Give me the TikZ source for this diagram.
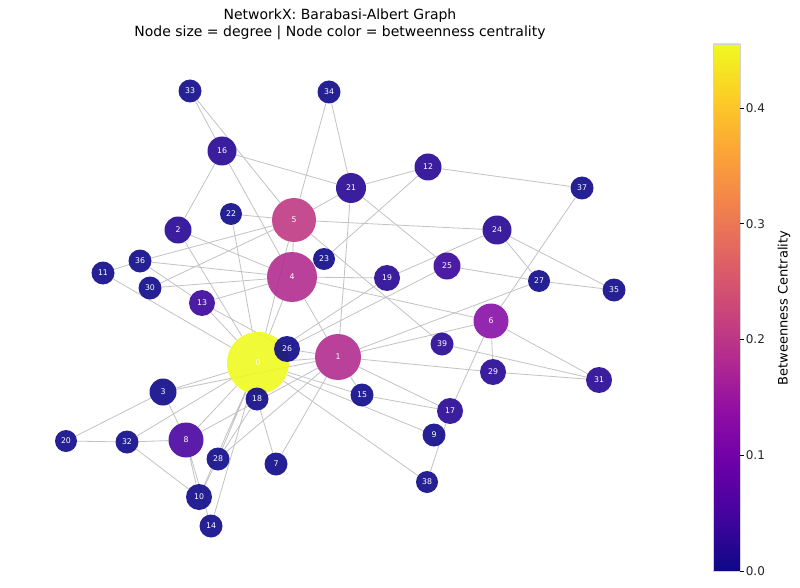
\documentclass[tikz,border=0pt]{standalone}
\usepackage{fontspec}
\setmainfont{DejaVu Sans}
\usepackage{tikz}

\definecolor{bc0}{HTML}{0D0887}
\definecolor{bc1}{HTML}{260593}
\definecolor{bc2}{HTML}{38049A}
\definecolor{bc3}{HTML}{4803A0}
\definecolor{bc4}{HTML}{870FA6}
\definecolor{bc5}{HTML}{B22C8F}
\definecolor{bc6}{HTML}{BF3983}
\definecolor{bc7}{HTML}{F0F921}
\definecolor{edgegray}{HTML}{C2C2C2}

\definecolor{pl0}{HTML}{0D0887}
\definecolor{pl1}{HTML}{41049D}
\definecolor{pl2}{HTML}{6A00A8}
\definecolor{pl3}{HTML}{8F0DA4}
\definecolor{pl4}{HTML}{B12A90}
\definecolor{pl5}{HTML}{CC4778}
\definecolor{pl6}{HTML}{E16462}
\definecolor{pl7}{HTML}{F2844B}
\definecolor{pl8}{HTML}{FCA636}
\definecolor{pl9}{HTML}{FCCE25}
\definecolor{pl10}{HTML}{F0F921}
\pgfdeclareverticalshading{plasmabar}{100bp}{color(0bp)=(pl0); color(25bp)=(pl0);
  color(30bp)=(pl1); color(35bp)=(pl2); color(40bp)=(pl3); color(45bp)=(pl4);
  color(50bp)=(pl5); color(55bp)=(pl6); color(60bp)=(pl7); color(65bp)=(pl8);
  color(70bp)=(pl9); color(75bp)=(pl10); color(100bp)=(pl10)}

\pgfdeclarelayer{edges}
\pgfsetlayers{edges,main}

\tikzset{
  vtx/.style={circle, minimum size=#1pt, inner sep=0pt, fill opacity=0.9, text opacity=1,
    text=white, font=\fontsize{7.8}{8}\selectfont},
  edge/.style={draw=edgegray, line width=0.8pt},
  ticklabel/.style={right, inner sep=1.5pt, font=\fontsize{12}{14}\selectfont, text=black!85},
}

\begin{document}
\begin{tikzpicture}[x=1pt,y=-1pt]
		%%%%% START %%%%%
		\useasboundingbox (0,0) rectangle (800,588);

		\node[align=center, font=\fontsize{14}{17}\selectfont] (title) at (340,24)
			{NetworkX: Barabasi-Albert Graph\\Node size = degree | Node color = betweenness centrality};

		% hubs
		\node[vtx=62, fill=bc7] (n0) at (258,363) {0};
		\node[vtx=46, fill=bc5] (n1) at (338,357) {1};
		\node[vtx=50, fill=bc5] (n4) at (292,277) {4};
		\node[vtx=44, fill=bc6] (n5) at (294,220) {5};
		\node[vtx=35, fill=bc4] (n6) at (491,321) {6};
		\node[vtx=35, fill=bc3] (n8) at (186,440) {8};

		% upper left
		\node[vtx=23, fill=bc0] (n33) at (190,91) {33};
		\node[vtx=23, fill=bc0] (n34) at (329,92) {34};
		\node[vtx=29, fill=bc1] (n16) at (222,151) {16};
		\node[vtx=27, fill=bc1] (n2) at (178,230) {2};
		\node[vtx=22, fill=bc0] (n22) at (231,214) {22};
		\node[vtx=23, fill=bc0] (n36) at (140,261) {36};
		\node[vtx=23, fill=bc0] (n11) at (103,273) {11};
		\node[vtx=23, fill=bc0] (n30) at (150,288) {30};
		\node[vtx=26, fill=bc2] (n13) at (202,303) {13};
		\node[vtx=22, fill=bc0] (n23) at (324,259) {23};

		% upper right
		\node[vtx=30, fill=bc1] (n21) at (351,188) {21};
		\node[vtx=27, fill=bc1] (n12) at (428,167) {12};
		\node[vtx=23, fill=bc0] (n37) at (582,188) {37};
		\node[vtx=29, fill=bc1] (n24) at (497,230) {24};
		\node[vtx=27, fill=bc2] (n25) at (447,266) {25};
		\node[vtx=26, fill=bc1] (n19) at (387,278) {19};
		\node[vtx=22, fill=bc0] (n27) at (539,281) {27};
		\node[vtx=23, fill=bc0] (n35) at (614,290) {35};

		% lower left
		\node[vtx=26, fill=bc0] (n26) at (287,349) {26};
		\node[vtx=27, fill=bc0] (n3) at (163,392) {3};
		\node[vtx=23, fill=bc0] (n18) at (257,399) {18};
		\node[vtx=22, fill=bc0] (n20) at (66,441) {20};
		\node[vtx=23, fill=bc0] (n32) at (127,442) {32};
		\node[vtx=23, fill=bc0] (n28) at (218,459) {28};
		\node[vtx=23, fill=bc0] (n7) at (276,464) {7};
		\node[vtx=26, fill=bc0] (n10) at (199,497) {10};
		\node[vtx=23, fill=bc0] (n14) at (211,526) {14};

		% lower right
		\node[vtx=23, fill=bc1] (n39) at (442,344) {39};
		\node[vtx=26, fill=bc1] (n29) at (493,372) {29};
		\node[vtx=26, fill=bc1] (n31) at (599,380) {31};
		\node[vtx=23, fill=bc0] (n15) at (362,395) {15};
		\node[vtx=26, fill=bc1] (n17) at (450,411) {17};
		\node[vtx=23, fill=bc0] (n9) at (434,435) {9};
		\node[vtx=22, fill=bc0] (n38) at (427,482) {38};

		\begin{pgfonlayer}{edges}
		\draw[edge] (n0) -- (n1) (n0) -- (n2) (n0) -- (n3) (n0) -- (n4) (n0) -- (n5)
			(n0) -- (n8) (n0) -- (n9) (n0) -- (n10) (n0) -- (n11) (n0) -- (n13)
			(n0) -- (n14) (n0) -- (n15) (n0) -- (n18) (n0) -- (n19) (n0) -- (n22)
			(n0) -- (n25) (n0) -- (n26) (n0) -- (n28) (n0) -- (n32) (n0) -- (n38);
		\draw[edge] (n1) -- (n3) (n1) -- (n4) (n1) -- (n6) (n1) -- (n7) (n1) -- (n8)
			(n1) -- (n15) (n1) -- (n17) (n1) -- (n21) (n1) -- (n26) (n1) -- (n27)
			(n1) -- (n28) (n1) -- (n29);
		\draw[edge] (n4) -- (n5) (n4) -- (n6) (n4) -- (n13) (n4) -- (n16) (n4) -- (n19)
			(n4) -- (n23) (n4) -- (n30) (n4) -- (n36) (n4) -- (n2);
		\draw[edge] (n5) -- (n21) (n5) -- (n22) (n5) -- (n24) (n5) -- (n30) (n5) -- (n33)
			(n5) -- (n34) (n5) -- (n36) (n5) -- (n39);
		\draw[edge] (n6) -- (n17) (n6) -- (n29) (n6) -- (n31) (n6) -- (n37);
		\draw[edge] (n2) -- (n16) (n3) -- (n8) (n3) -- (n20) (n7) -- (n18);
		\draw[edge] (n8) -- (n10) (n8) -- (n14) (n8) -- (n32) (n10) -- (n28) (n10) -- (n32);
		\draw[edge] (n11) -- (n36) (n12) -- (n21) (n12) -- (n23) (n12) -- (n37);
		\draw[edge] (n13) -- (n26) (n13) -- (n36) (n15) -- (n17) (n16) -- (n21) (n16) -- (n33);
		\draw[edge] (n17) -- (n38) (n18) -- (n28) (n19) -- (n24) (n20) -- (n32);
		\draw[edge] (n21) -- (n25) (n21) -- (n34) (n24) -- (n27) (n24) -- (n35);
		\draw[edge] (n25) -- (n27) (n27) -- (n35) (n29) -- (n31) (n31) -- (n39);
		\end{pgfonlayer}

		% colour bar
		\shade[shading=plasmabar] (713,44) rectangle (740,571);
		\draw[draw=black!18, line width=0.6pt] (713,44) rectangle (740,571);
		\draw[line width=0.6pt] (740,571) -- (744,571) node[ticklabel] (t0) {0.0};
		\draw[line width=0.6pt] (740,455.25) -- (744,455.25) node[ticklabel] (t1) {0.1};
		\draw[line width=0.6pt] (740,339.5) -- (744,339.5) node[ticklabel] (t2) {0.2};
		\draw[line width=0.6pt] (740,223.75) -- (744,223.75) node[ticklabel] (t3) {0.3};
		\draw[line width=0.6pt] (740,108) -- (744,108) node[ticklabel] (t4) {0.4};
		\node[rotate=90, font=\fontsize{13}{15}\selectfont] (cblabel) at (784,308) {Betweenness Centrality};

		%%%%% END %%%%%
\end{tikzpicture}
\end{document}
